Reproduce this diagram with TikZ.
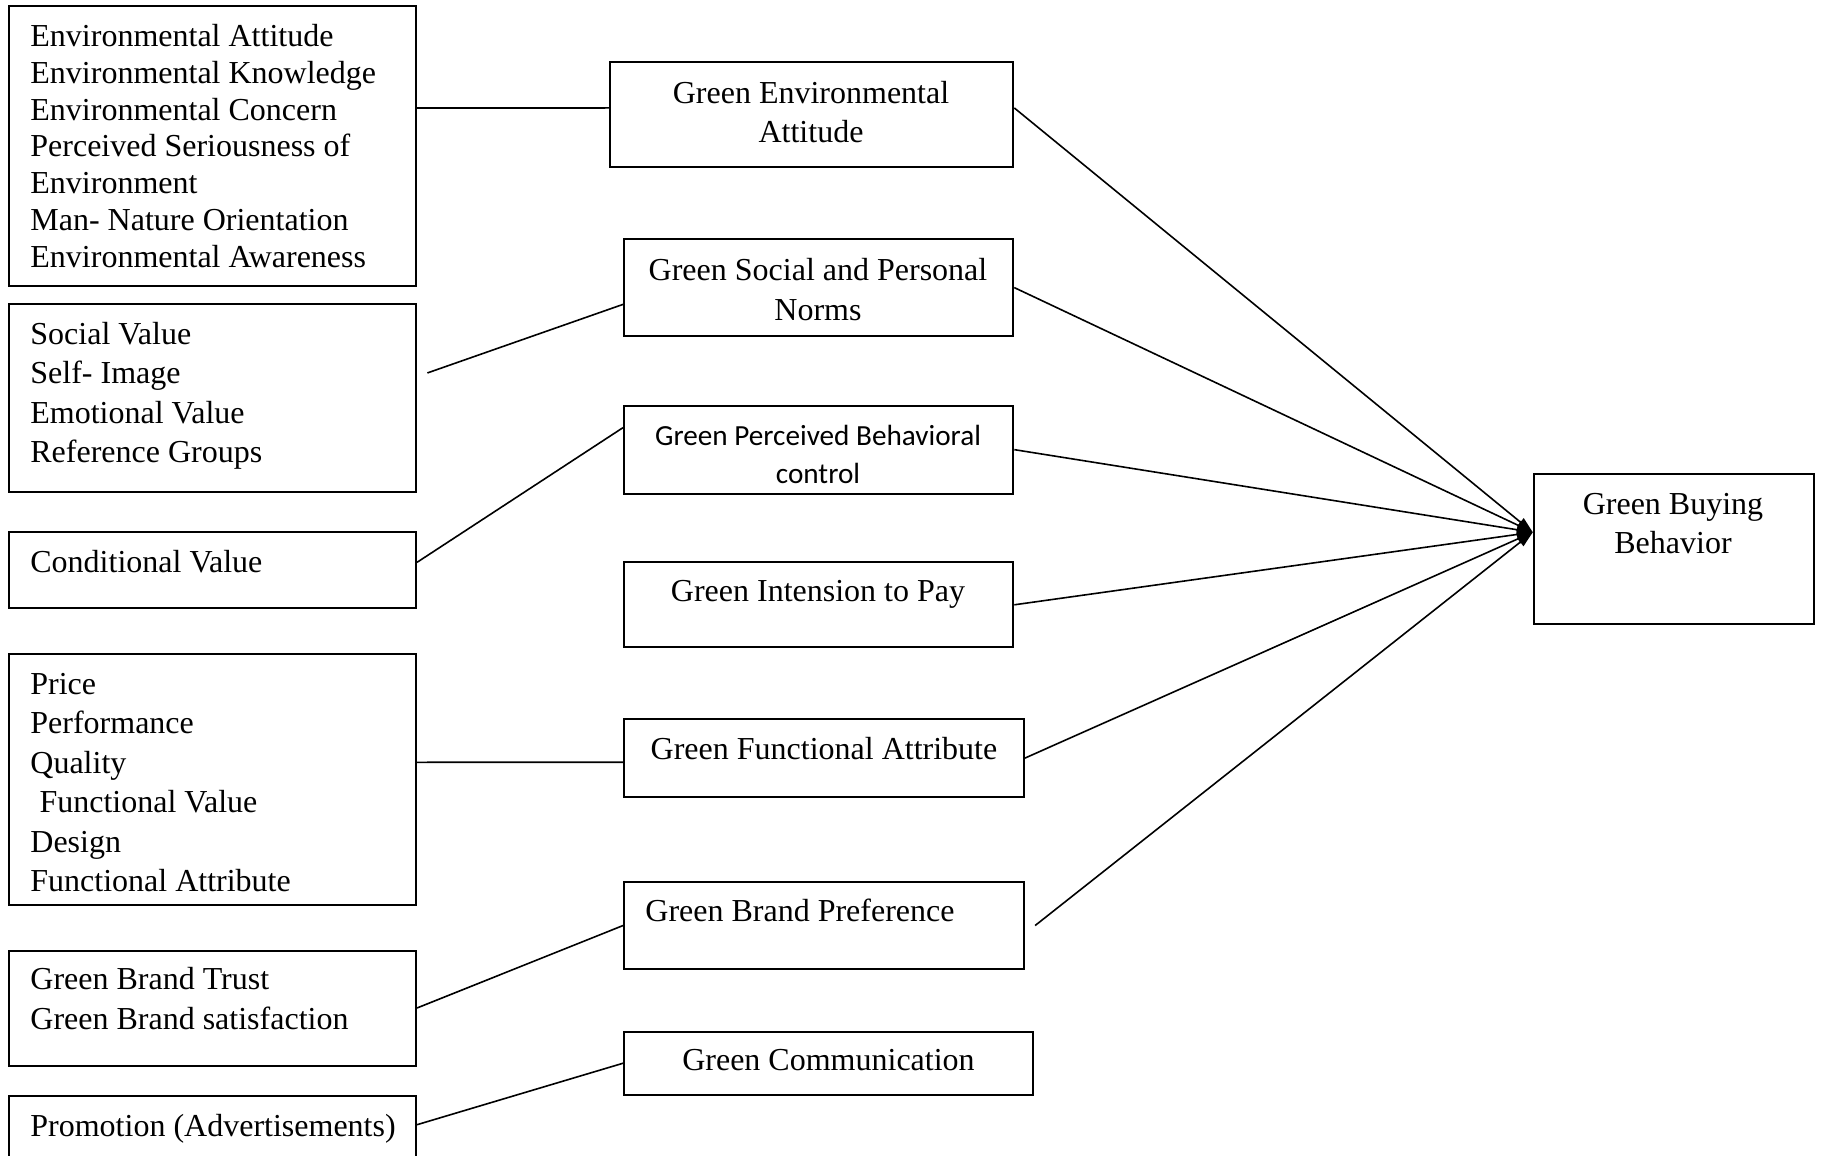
\documentclass[tikz,border=0pt]{standalone}
\usepackage{fontspec}
\setmainfont{Liberation Serif}
\newfontfamily\calib{Carlito}
\usetikzlibrary{arrows.meta,fit}
\begin{document}
\begin{tikzpicture}[x=0.5pt,y=-0.5pt,
  box/.style={draw,line width=1pt,inner sep=0pt},
  txt/.style={inner sep=0pt,font=\fontsize{16}{19.75}\selectfont},
  link/.style={line width=0.8pt},
  arr/.style={line width=0.8pt,-{Triangle[length=8pt,width=5pt]}}]
\useasboundingbox (0,0) rectangle (1822,1156);
\clip (0,0) rectangle (1822,1156);
% left boxes
\node[box,fit={(9,6) (416,286)}] (fA) {};
\node[box,fit={(9,304.4) (416,491.5)}] (fB) {};
\node[box,fit={(9,532.2) (416,607.7)}] (fC) {};
\node[box,fit={(9,654.2) (416,905.2)}] (fD) {};
\node[box,fit={(9,950.5) (416,1065.5)}] (fE) {};
\node[box,fit={(9,1095.8) (416,1170)}] (fF) {};
\node[txt,align=left,anchor=west,font=\fontsize{16}{18.4}\selectfont] (tA) at (30,146)
 {Environmental Attitude\\Environmental Knowledge\\Environmental Concern\\Perceived Seriousness of\\Environment\\Man- Nature Orientation\\Environmental Awareness};
\node[txt,align=left,anchor=west] (tB) at (30,396) {Social Value\\Self- Image\\Emotional Value\\Reference Groups};
\node[txt,align=left,anchor=west] (tC) at (30,562) {Conditional Value};
\node[txt,align=left,anchor=west] (tD) at (30,782.5) {Price\\Performance\\Quality\\\hspace*{4.6pt}Functional Value\\Design\\Functional Attribute};
\node[txt,align=left,anchor=west] (tE) at (30,998.5) {Green Brand Trust\\Green Brand satisfaction};
\node[txt,align=left,anchor=west] (tF) at (30,1129) {Promotion (Advertisements)};
% middle boxes
\node[box,fit={(610,61.6) (1013.3,167.3)}] (fM1) {};
\node[box,fit={(624,239.4) (1013.3,335.8)}] (fM2) {};
\node[box,fit={(624,405.5) (1013.3,493.8)}] (fM3) {};
\node[box,fit={(624,562.4) (1013.3,647.2)}] (fM4) {};
\node[box,fit={(624,719.3) (1023.7,797.1)}] (fM5) {};
\node[box,fit={(624,882) (1023.7,969.1)}] (fM6) {};
\node[box,fit={(624,1031.9) (1033,1094.6)}] (fM7) {};
\node[txt,align=center] (tM1) at (811,112) {Green Environmental\\Attitude};
\node[txt,align=center] (tM2) at (818,289.5) {Green Social and Personal\\Norms};
\node[txt,align=center,font=\calib\fontsize{14.6}{19.1}\selectfont] (tM3) at (818,454.5) {Green Perceived Behavioral\\control};
\node[txt,align=center] (tM4) at (818,594.5) {Green Intension to Pay};
\node[txt,align=center] (tM5) at (824,749) {Green Functional Attribute};
\node[txt,align=left,anchor=west] (tM6) at (645,910.5) {Green Brand Preference};
\node[txt,align=center] (tM7) at (828.5,1060.5) {Green Communication};
% right box
\node[box,fit={(1533.8,474.1) (1813.9,624)}] (fG) {};
\node[txt,align=center] (tG) at (1673,523.5) {Green Buying\\Behavior};
% left-to-middle links
\draw[link] ([yshift=19pt]fA.east) -- ([yshift=3.25pt]fM1.west);
\coordinate (bS) at ([xshift=5.2pt,yshift=12.5pt]fB.east);
\draw[link] (bS) -- ([yshift=-8.4pt]fM2.west);
\draw[link] ([yshift=3.8pt]fC.east) -- ([yshift=11pt]fM3.west);
\draw[link] ([yshift=8.7pt]fD.east) -- ([yshift=-2pt]fM5.west);
\draw[link] (fE.east) -- (fM6.west);
\draw[link] ([yshift=4.1pt]fF.east) -- (fM7.west);
% middle-to-right arrows
\coordinate (tip) at ([yshift=8.4pt]fG.west);
\draw[arr] ([yshift=3.25pt]fM1.east) -- (tip);
\draw[arr] (fM2.east) -- (tip);
\draw[arr] (fM3.east) -- (tip);
\draw[arr] (fM4.east) -- (tip);
\draw[arr] (fM5.east) -- (tip);
\coordinate (m6s) at ([xshift=5.2pt]fM6.east);
\draw[arr] (m6s) -- (tip);
\end{tikzpicture}
\end{document}
